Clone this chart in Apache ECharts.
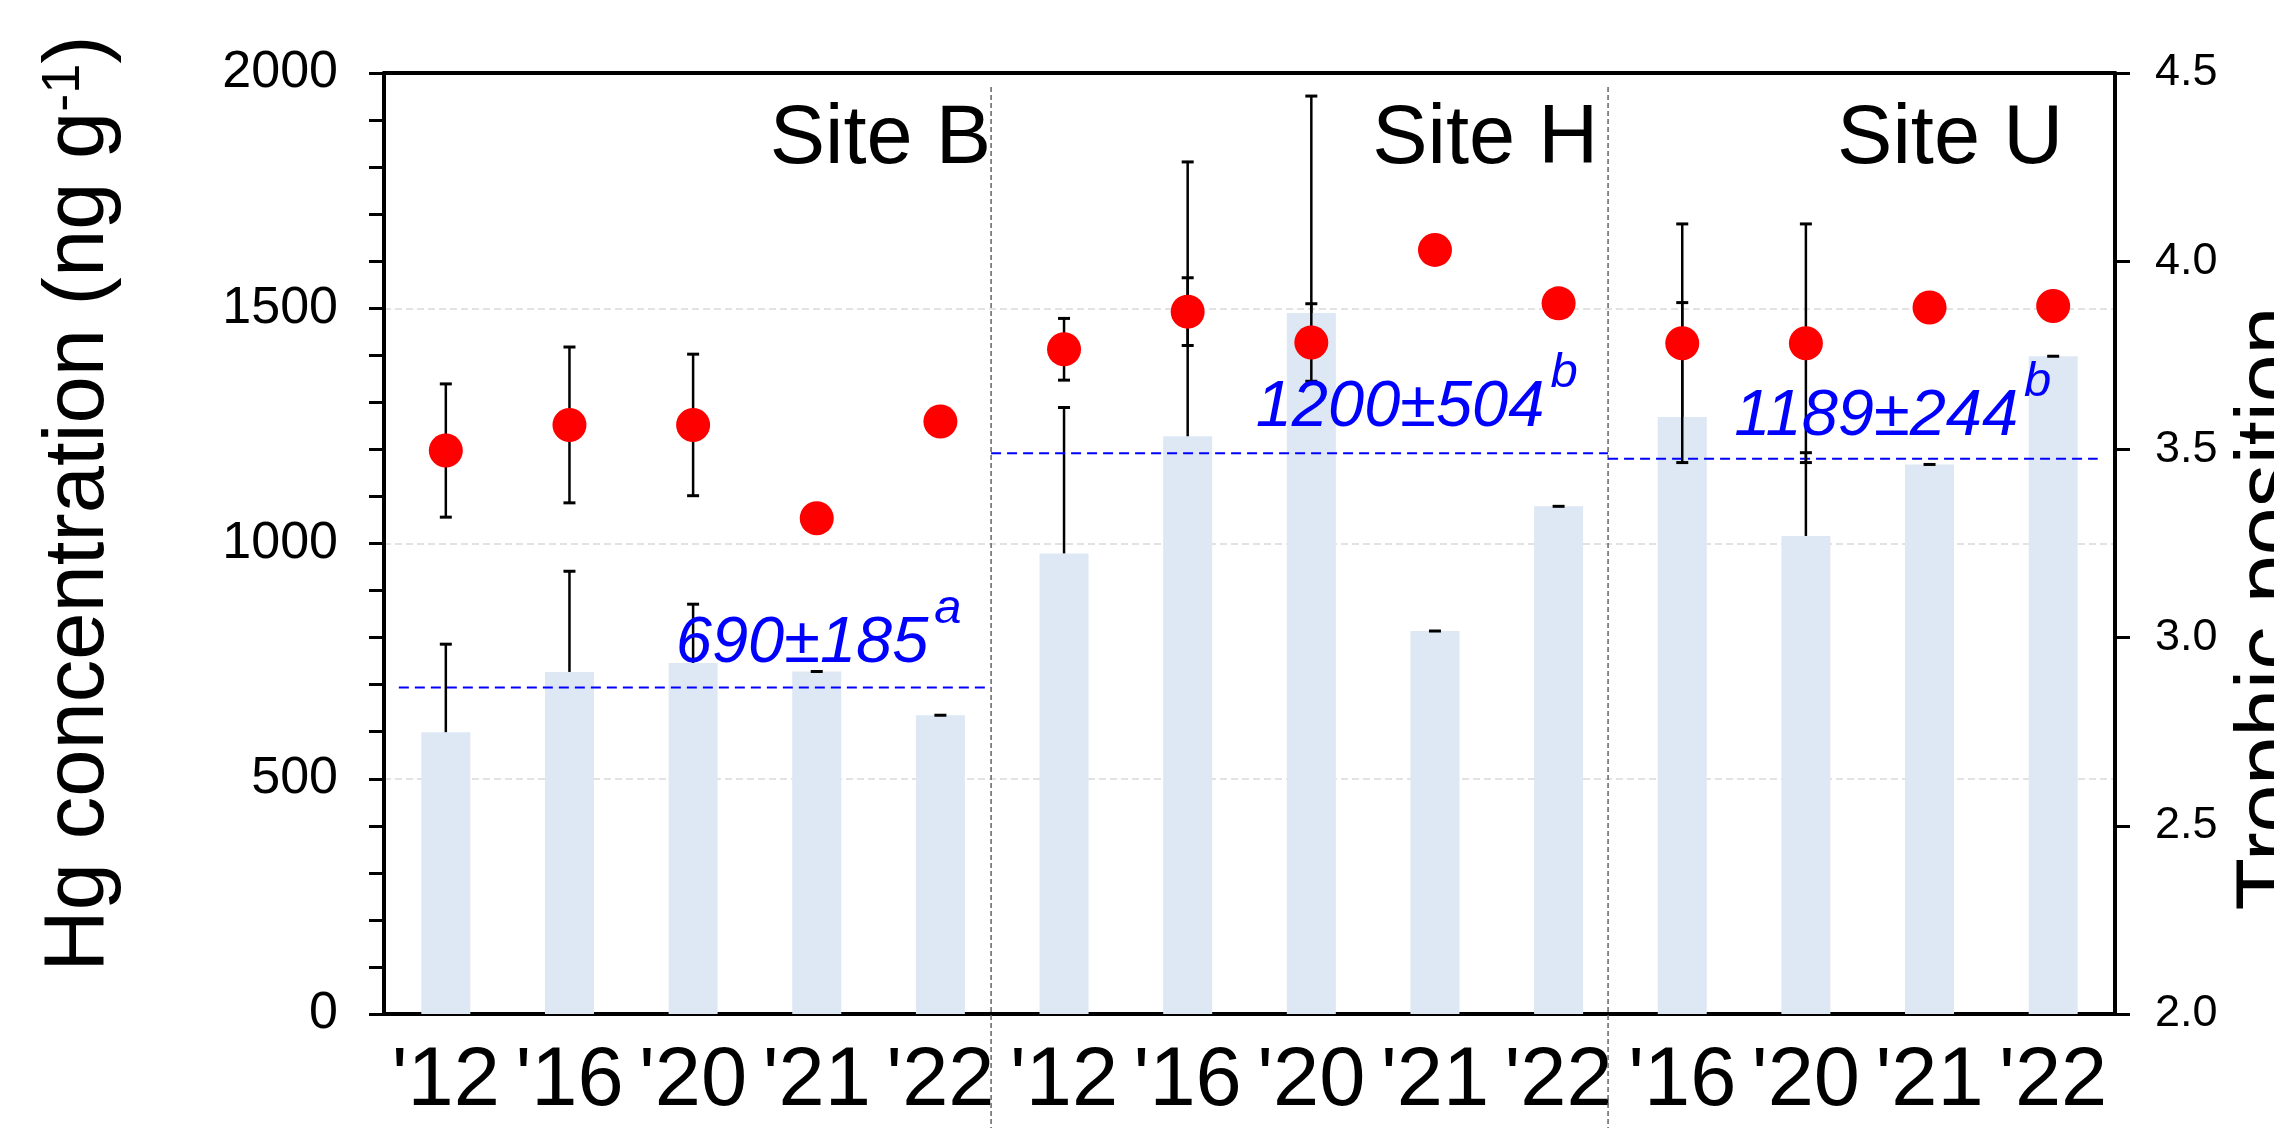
<!DOCTYPE html>
<html>
<head>
<meta charset="utf-8">
<script src="https://cdn.jsdelivr.net/npm/echarts@6/dist/echarts.min.js"></script>
<style>
html,body{margin:0;padding:0;background:#fff;}
#c{width:2274px;height:1128px;}
</style>
</head>
<body>
<div id="c"></div>
<script>
// ---------- data ----------
const years      = ["'12", "'16", "'20", "'21", "'22", "'12", "'16", "'20", "'21", "'22", "'16", "'20", "'21", "'22"];
const hgConc     = [599, 727, 746, 728, 635, 979, 1228, 1490, 814, 1079, 1269, 1016, 1168, 1398];
const hgErr      = [187, 214, 125, 0, 0, 310, 583, 461, 0, 0, 243, 177, 0, 0];
const trophicPos = [3.497, 3.565, 3.565, 3.317, 3.574, 3.766, 3.866, 3.784, 4.030, 3.888, 3.782, 3.782, 3.877, 3.881];
const tpErr      = [0.177, 0.207, 0.188, 0, 0, 0.082, 0.090, 0.103, 0, 0, 0.317, 0.317, 0, 0];
const siteNames  = ['Site B', 'Site H', 'Site U'];
const siteMeans  = [694, 1192, 1180];
const meanTexts  = ['690\u00b1185', '1200\u00b1504', '1189\u00b1244'];
const meanLetters = ['a', 'b', 'b'];

// ---------- layout (positions on the hidden index axis) ----------
const separatorsAt = [4.41, 9.40];
const sepTopValue = 1970;
const meanSpans = [[-0.38, 4.41], [4.41, 9.40], [9.40, 13.36]];
const siteLabelAnchors = [[4.41, 1858], [9.32, 1858], [13.08, 1858]];
const meanLabelAnchors = [[1.86, 718], [6.55, 1220], [10.42, 1201]];

const FONT = '"Liberation Sans", Arial, Helvetica, sans-serif';

const chart = echarts.init(document.getElementById('c'), null, {renderer: 'canvas', width: 2274, height: 1128});

function hgErrRender(params, api) {
  const i = api.value(0), v = api.value(1), e = api.value(2);
  const base = api.coord([i, v]);
  const top = api.coord([i, v + e]);
  const children = [];
  if (e > 0) {
    children.push({type: 'line', shape: {x1: base[0], y1: base[1], x2: top[0], y2: top[1]},
      style: {stroke: '#000', lineWidth: 2.5}});
  }
  children.push({type: 'line', shape: {x1: top[0] - 6, y1: top[1], x2: top[0] + 6, y2: top[1]},
    style: {stroke: '#000', lineWidth: 3}});
  return {type: 'group', children: children};
}

function tpErrRender(params, api) {
  const i = api.value(0), v = api.value(1), e = api.value(2);
  if (!e) return {type: 'group', children: []};
  const p1 = api.coord([i, v - e]);
  const p2 = api.coord([i, v + e]);
  return {type: 'group', children: [
    {type: 'line', shape: {x1: p1[0], y1: p1[1], x2: p2[0], y2: p2[1]}, style: {stroke: '#000', lineWidth: 2.5}},
    {type: 'line', shape: {x1: p1[0] - 6, y1: p1[1], x2: p1[0] + 6, y2: p1[1]}, style: {stroke: '#000', lineWidth: 3}},
    {type: 'line', shape: {x1: p2[0] - 6, y1: p2[1], x2: p2[0] + 6, y2: p2[1]}, style: {stroke: '#000', lineWidth: 3}}
  ]};
}

function sepRender(params, api) {
  const p = api.coord([api.value(0), api.value(1)]);
  return {type: 'line', shape: {x1: p[0], y1: p[1], x2: p[0], y2: api.getHeight()},
    style: {stroke: '#666', lineWidth: 1.5, lineDash: [5, 3]}};
}

function meanRender(params, api) {
  const a = api.coord([api.value(0), api.value(1)]);
  const b = api.coord([api.value(2), api.value(1)]);
  return {type: 'line', shape: {x1: a[0], y1: a[1], x2: b[0], y2: b[1]},
    style: {stroke: '#0000ff', lineWidth: 2, lineDash: [10, 6]}};
}

const option = {
  animation: false,
  backgroundColor: '#ffffff',
  grid: {left: 384, right: 159, top: 73, bottom: 114, containLabel: false, outerBoundsMode: 'none'},
  xAxis: [
    {
      type: 'category', data: years, position: 'bottom', boundaryGap: true,
      axisLine: {show: true, onZero: false, lineStyle: {color: '#000', width: 4}},
      axisTick: {show: false},
      axisLabel: {interval: 0, margin: 27, color: '#000', fontSize: 83, fontFamily: FONT},
      splitLine: {show: false}
    },
    {
      type: 'value', min: -0.5, max: 13.5, position: 'top',
      axisLine: {show: true, onZero: false, lineStyle: {color: '#000', width: 4}},
      axisTick: {show: false}, axisLabel: {show: false}, splitLine: {show: false}
    }
  ],
  yAxis: [
    {
      type: 'value', min: 0, max: 2000, interval: 500, position: 'left',
      axisLine: {show: true, onZero: false, lineStyle: {color: '#000', width: 4}},
      axisTick: {show: true, length: 15, lineStyle: {color: '#000', width: 3}},
      minorTick: {show: true, splitNumber: 5, length: 15, lineStyle: {color: '#000', width: 3}},
      axisLabel: {margin: 46, color: '#000', fontSize: 52, fontFamily: FONT, formatter: v => String(v)},
      splitLine: {show: true, lineStyle: {color: '#d9d9d9', width: 1.5, type: [7, 4]}},
      name: 'Hg concentration (ng g{s|-1})',
      nameLocation: 'middle', nameGap: 261,
      nameTextStyle: {
        color: '#000', fontSize: 85, fontFamily: FONT, lineHeight: 86,
        padding: [0, 0, 0, 80],
        rich: {s: {fontSize: 54, fontFamily: FONT, color: '#000', verticalAlign: 'top', lineHeight: 54}}
      }
    },
    {
      type: 'value', min: 2, max: 4.5, interval: 0.5, position: 'right',
      axisLine: {show: true, onZero: false, lineStyle: {color: '#000', width: 4}},
      axisTick: {show: true, length: 15, lineStyle: {color: '#000', width: 3}},
      axisLabel: {margin: 40, color: '#000', fontSize: 45, fontFamily: FONT, formatter: v => v.toFixed(1)},
      splitLine: {show: false},
      name: 'Trophic position',
      nameLocation: 'middle', nameGap: 99,
      nameTextStyle: {color: '#000', fontSize: 86, fontFamily: FONT, padding: [0, 130, 0, 0]}
    }
  ],
  series: [
    {
      name: 'Hg', type: 'bar', xAxisIndex: 0, yAxisIndex: 0, data: hgConc, barWidth: 49,
      itemStyle: {color: '#dde8f4'}, z: 1
    },
    {
      name: 'HgErr', type: 'custom', xAxisIndex: 0, yAxisIndex: 0,
      data: hgConc.map((v, i) => [i, v, hgErr[i]]), encode: {x: 0, y: 1},
      renderItem: hgErrRender, z: 3
    },
    {
      name: 'separators', type: 'custom', xAxisIndex: 1, yAxisIndex: 0,
      data: separatorsAt.map(x => [x, sepTopValue]), encode: {x: 0, y: 1},
      renderItem: sepRender, clip: false, z: 2
    },
    {
      name: 'means', type: 'custom', xAxisIndex: 1, yAxisIndex: 0,
      data: siteMeans.map((m, k) => [meanSpans[k][0], m, meanSpans[k][1]]), encode: {x: [0, 2], y: 1},
      renderItem: meanRender, z: 4
    },
    {
      name: 'TPErr', type: 'custom', xAxisIndex: 0, yAxisIndex: 1,
      data: trophicPos.map((v, i) => [i, v, tpErr[i]]), encode: {x: 0, y: 1},
      renderItem: tpErrRender, z: 5
    },
    {
      name: 'TP', type: 'scatter', xAxisIndex: 0, yAxisIndex: 1, data: trophicPos,
      symbol: 'circle', symbolSize: 34, itemStyle: {color: '#ff0000', opacity: 1}, z: 6
    },
    {
      name: 'siteLabels', type: 'scatter', xAxisIndex: 1, yAxisIndex: 0,
      data: siteNames.map((n, k) => ({name: n, value: siteLabelAnchors[k]})),
      symbol: 'circle', symbolSize: 0, z: 7, silent: true,
      label: {show: true, position: [0, 0], align: 'right', verticalAlign: 'middle', formatter: '{b}',
        color: '#000000', opacity: 1, fontSize: 83, fontFamily: FONT, textBorderWidth: 0}
    },
    {
      name: 'meanLabels', type: 'scatter', xAxisIndex: 1, yAxisIndex: 0,
      data: meanTexts.map((t, k) => ({name: t, value: meanLabelAnchors[k]})),
      symbol: 'circle', symbolSize: 0, z: 7, silent: true,
      label: {
        show: true, position: [0, 0], align: 'left', verticalAlign: 'bottom', opacity: 1,
        formatter: p => '{m|' + meanTexts[p.dataIndex] + '}{s|' + meanLetters[p.dataIndex] + '}',
        textBorderWidth: 0,
        rich: {
          m: {fontSize: 65, fontStyle: 'italic', fontFamily: FONT, color: '#0000ff', lineHeight: 65, verticalAlign: 'bottom'},
          s: {fontSize: 49, fontStyle: 'italic', fontFamily: FONT, color: '#0000ff', lineHeight: 49, verticalAlign: 'bottom', padding: [0, 0, 42, 6]}
        }
      }
    }
  ]
};

chart.setOption(option);
</script>
</body>
</html>
